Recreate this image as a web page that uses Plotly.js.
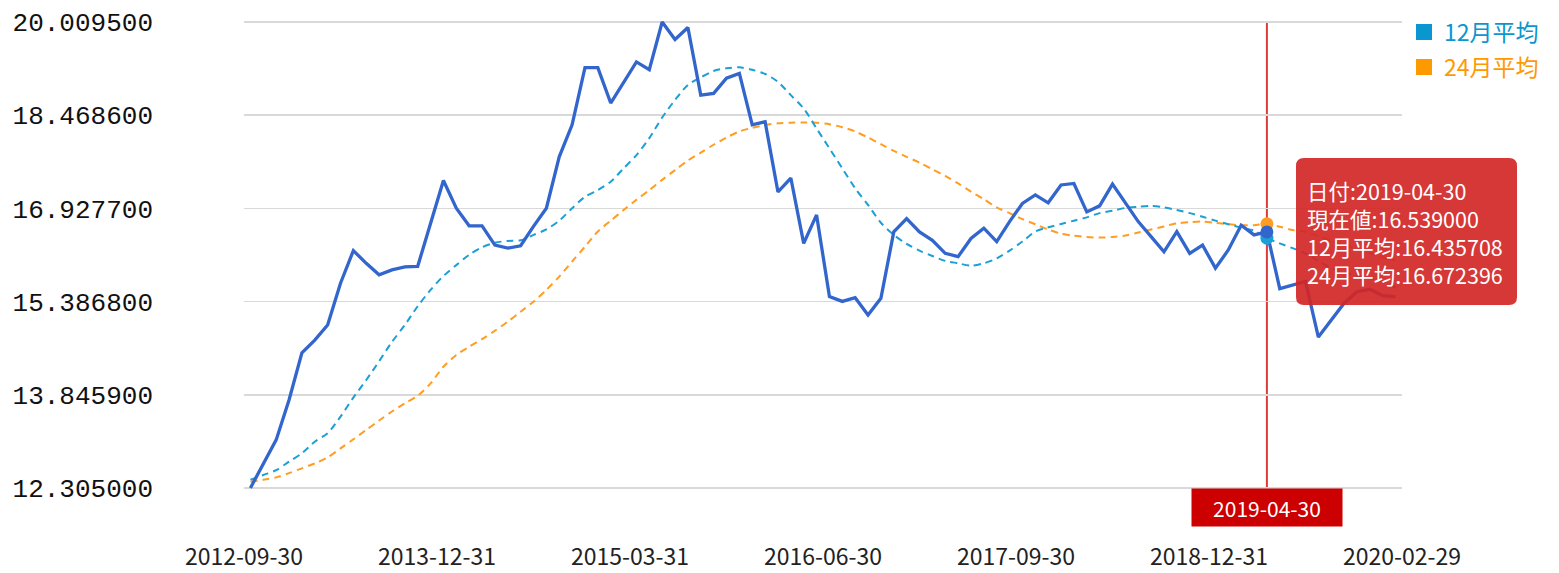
<!DOCTYPE html>
<html><head><meta charset="utf-8">
<script src="https://cdn.plot.ly/plotly-3.0.1.min.js"></script>
<style>html,body{margin:0;padding:0;background:#fff}#chart{width:1559px;height:573px}</style>
</head><body><div id="chart"></div>
<script>
// ---- data (categories: month-end dates) ----
const dates = [
 '2012-09-30','2012-10-31','2012-11-30','2012-12-31',
 '2013-01-31','2013-02-28','2013-03-31','2013-04-30','2013-05-31','2013-06-30','2013-07-31','2013-08-31','2013-09-30','2013-10-31','2013-11-30','2013-12-31',
 '2014-01-31','2014-02-28','2014-03-31','2014-04-30','2014-05-31','2014-06-30','2014-07-31','2014-08-31','2014-09-30','2014-10-31','2014-11-30','2014-12-31',
 '2015-01-31','2015-02-28','2015-03-31','2015-04-30','2015-05-31','2015-06-30','2015-07-31','2015-08-31','2015-09-30','2015-10-31','2015-11-30','2015-12-31',
 '2016-01-31','2016-02-29','2016-03-31','2016-04-30','2016-05-31','2016-06-30','2016-07-31','2016-08-31','2016-09-30','2016-10-31','2016-11-30','2016-12-31',
 '2017-01-31','2017-02-28','2017-03-31','2017-04-30','2017-05-31','2017-06-30','2017-07-31','2017-08-31','2017-09-30','2017-10-31','2017-11-30','2017-12-31',
 '2018-01-31','2018-02-28','2018-03-31','2018-04-30','2018-05-31','2018-06-30','2018-07-31','2018-08-31','2018-09-30','2018-10-31','2018-11-30','2018-12-31',
 '2019-01-31','2019-02-28','2019-03-31','2019-04-30','2019-05-31','2019-06-30','2019-07-31','2019-08-31','2019-09-30','2019-10-31','2019-11-30','2019-12-31',
 '2020-01-31','2020-02-29'
];
// 現在値
const price = [
 12.305,12.70,13.10,13.76,14.54,14.75,15.00,15.69,16.23,16.02,
 15.83,15.91,15.96,15.97,16.68,17.39,16.93,16.64,16.64,16.32,
 16.27,16.31,16.63,16.93,17.78,18.31,19.255,19.255,18.67,19.02,
 19.35,19.22,20.0095,19.72,19.92,18.80,18.83,19.08,19.16,18.31,
 18.36,17.20,17.43,16.35,16.82,15.47,15.39,15.45,15.165,15.44,
 16.54,16.76,16.54,16.40,16.185,16.13,16.43,16.60,16.38,16.71,
 17.01,17.15,17.02,17.315,17.34,16.87,16.97,17.33,17.01,16.71,
 16.46,16.21,16.545,16.185,16.32,15.94,16.24,16.65,16.49,16.539,
 15.60,15.66,15.72,14.80,15.08,15.36,15.55,15.59,15.485,15.47
];
// 12月平均
const ma12 = [
 12.44,12.52,12.60,12.74,12.88,13.07,13.21,13.485,13.80,14.09,
 14.40,14.72,15.00,15.31,15.58,15.81,15.99,16.16,16.285,16.36,
 16.39,16.40,16.49,16.58,16.725,16.93,17.12,17.23,17.37,17.59,
 17.81,18.09,18.43,18.72,18.97,19.095,19.20,19.245,19.26,19.22,
 19.15,19.02,18.80,18.58,18.25,17.92,17.59,17.26,16.985,16.69,
 16.49,16.34,16.23,16.14,16.06,16.02,15.98,16.02,16.10,16.23,
 16.38,16.545,16.615,16.67,16.725,16.78,16.85,16.89,16.935,16.955,
 16.97,16.945,16.90,16.85,16.79,16.725,16.665,16.61,16.56,16.435708,
 16.35,16.27,16.185,16.06,15.94,15.87,15.81,15.78,15.72,15.62
];
// 24月平均
const ma24 = [
 12.41,12.44,12.48,12.55,12.63,12.71,12.81,12.96,13.11,13.265,
 13.42,13.57,13.705,13.83,14.035,14.31,14.505,14.64,14.765,14.905,
 15.055,15.22,15.385,15.58,15.80,16.05,16.295,16.545,16.725,16.90,
 17.07,17.23,17.40,17.56,17.72,17.85,17.98,18.10,18.20,18.26,
 18.305,18.335,18.345,18.35,18.345,18.32,18.27,18.20,18.10,17.99,
 17.88,17.78,17.685,17.575,17.465,17.34,17.205,17.08,16.945,16.85,
 16.75,16.665,16.58,16.51,16.475,16.455,16.445,16.455,16.48,16.53,
 16.58,16.63,16.68,16.70,16.71,16.69,16.665,16.65,16.65,16.672396,
 16.625,16.57,16.54,16.47,16.39,16.32,16.26,16.19,16.12,16.07
];
const yTickVals = [12.305, 13.8459, 15.3868, 16.9277, 18.4686, 20.0095];
const yTickText = ['12.305000','13.845900','15.386800','16.927700','18.468600','20.009500'];
const xTickLabels = ['2012-09-30','2013-12-31','2015-03-31','2016-06-30','2017-09-30','2018-12-31','2020-02-29'];
const seriesNames = ['現在値','12月平均','24月平均'];
const pointerDate = '2019-04-30';
const tipLabels = ['日付','現在値','12月平均','24月平均'];

// ---- styling ----
const FONT = '"Noto Sans CJK JP", "Noto Sans", sans-serif';
const MONO = '"Liberation Mono", "DejaVu Sans Mono", monospace';
const C_PRICE = '#3366cc', C_MA12 = '#1a9fd6', C_MA24 = '#ff9d22';
const W = 1559, H = 573, M = {l:244, r:157, t:19, b:82, autoexpand: false};
const pw = W - M.l - M.r, ph = H - M.t - M.b;
const px2x = px => (px - M.l) / pw;
const py2y = py => (H - M.b - py) / ph;

const k = dates.indexOf(pointerDate);
const xTickVals = xTickLabels.map(d => {
  const i = dates.indexOf(d);
  return i === dates.length - 1 ? i + 0.5 : i - 0.5;
});

const traces = [
  {x: dates, y: ma24, mode: 'lines', name: seriesNames[2], showlegend: false, hoverinfo: 'skip',
   line: {color: C_MA24, width: 2, dash: '7px,5px', shape: 'spline', smoothing: 0.8}},
  {x: dates, y: ma12, mode: 'lines', name: seriesNames[1], showlegend: false, hoverinfo: 'skip',
   line: {color: C_MA12, width: 2, dash: '7px,5px', shape: 'spline', smoothing: 0.8}},
  {x: dates, y: price, mode: 'lines', name: seriesNames[0], showlegend: false, hoverinfo: 'skip',
   line: {color: C_PRICE, width: 3.3}},
  {x: [dates[k]], y: [ma24[k]], mode: 'markers', showlegend: false, hoverinfo: 'skip',
   marker: {color: C_MA24, size: 13}},
  {x: [dates[k]], y: [ma12[k]], mode: 'markers', showlegend: false, hoverinfo: 'skip',
   marker: {color: C_MA12, size: 13}},
  {x: [dates[k]], y: [price[k]], mode: 'markers', showlegend: false, hoverinfo: 'skip',
   marker: {color: C_PRICE, size: 13}},
  {x: [null], y: [null], mode: 'markers', legend: 'legend',
   name: '<span style="color:#0a96cf">' + seriesNames[1] + '</span>',
   marker: {color: '#0a96cf', symbol: 'square', size: 16}},
  {x: [null], y: [null], mode: 'markers', legend: 'legend2',
   name: '<span style="color:#ff9900">' + seriesNames[2] + '</span>',
   marker: {color: '#ff9900', symbol: 'square', size: 16}}
];

// tooltip rounded box (pixel geometry -> paper)
const bx0 = px2x(1296), bx1 = px2x(1517), by0 = py2y(305), by1 = py2y(158);
const rx = 8 / pw, ry = 8 / ph;
const boxPath = `M ${bx0+rx},${by1} L ${bx1-rx},${by1} Q ${bx1},${by1} ${bx1},${by1-ry} L ${bx1},${by0+ry} Q ${bx1},${by0} ${bx1-rx},${by0} L ${bx0+rx},${by0} Q ${bx0},${by0} ${bx0},${by0+ry} L ${bx0},${by1-ry} Q ${bx0},${by1} ${bx0+rx},${by1} Z`;

const tipText = [
  tipLabels[0] + ':' + dates[k],
  tipLabels[1] + ':' + price[k].toFixed(6),
  tipLabels[2] + ':' + ma12[k].toFixed(6),
  tipLabels[3] + ':' + ma24[k].toFixed(6)
].join('<br>');

const legendBase = {xanchor: 'left', yanchor: 'middle', font: {family: FONT, size: 23},
  bgcolor: 'rgba(0,0,0,0)', borderwidth: 0};

const layout = {
  width: W, height: H,
  margin: M,
  paper_bgcolor: '#fff', plot_bgcolor: '#fff',
  font: {family: FONT, color: '#222'},
  showlegend: true,
  legend: Object.assign({x: px2x(1404), y: py2y(32)}, legendBase),
  legend2: Object.assign({x: px2x(1404), y: py2y(67)}, legendBase),
  xaxis: {type: 'category', range: [-0.5, dates.length - 0.5], showgrid: false, zeroline: false,
    showline: false, ticks: '', tickmode: 'array', tickvals: xTickVals, ticktext: xTickLabels,
    tickfont: {family: FONT, size: 23, color: '#222'}, ticklabelstandoff: 50, fixedrange: true},
  yaxis: {range: [12.305 - 0.05, 20.0095 + 0.05], tickmode: 'array', tickvals: yTickVals, ticktext: yTickText,
    showgrid: true, gridcolor: '#d9d9d9', gridwidth: 1.6, zeroline: false, showline: false, ticks: '',
    tickfont: {family: MONO, size: 26, color: '#111'}, ticklabelstandoff: 90, fixedrange: true},
  shapes: [
    {type: 'line', xref: 'x', yref: 'paper', x0: pointerDate, x1: pointerDate, y0: py2y(488), y1: py2y(22),
     line: {color: '#dd3a3a', width: 2}, layer: 'between'},
    {type: 'path', xref: 'paper', yref: 'paper', path: boxPath, fillcolor: 'rgba(211,38,38,0.92)',
     line: {width: 0}, layer: 'above'}
  ],
  annotations: [
    {xref: 'paper', yref: 'paper', x: px2x(1305), y: py2y(232), xanchor: 'left', yanchor: 'middle',
     align: 'left', showarrow: false, text: tipText, font: {family: FONT, size: 21.5, color: '#fff'}},
    {xref: 'x', yref: 'paper', x: pointerDate, y: py2y(488), xanchor: 'center', yanchor: 'top',
     showarrow: false, text: pointerDate, bgcolor: '#cc0000', width: 150, height: 37, borderpad: 0,
     font: {family: FONT, size: 21, color: '#fff'}}
  ]
};

Plotly.newPlot('chart', traces, layout, {displayModeBar: false, staticPlot: true});
</script>
</body></html>
